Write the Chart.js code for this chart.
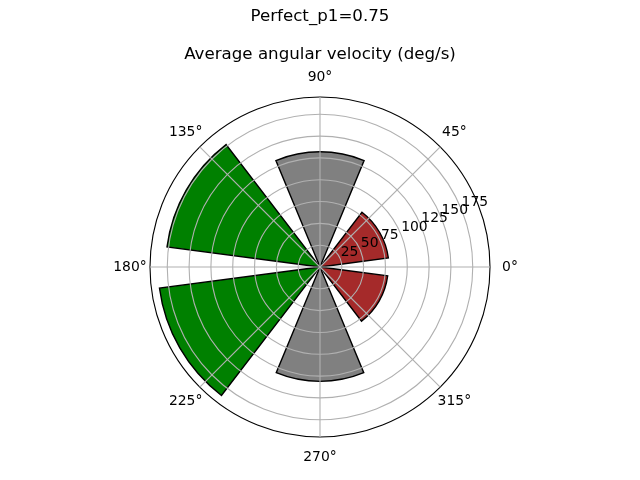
<!DOCTYPE html>
<html><head><meta charset="utf-8">
<script src="https://cdn.jsdelivr.net/npm/chart.js@4.4.0/dist/chart.umd.min.js"></script>
<style>html,body{margin:0;padding:0;background:#fff;} canvas{display:block;}</style>
</head><body>
<canvas id="c" width="640" height="480"></canvas>
<script>
const suptitleText = 'Perfect_p1=0.75';
const titleText = 'Average angular velocity (deg/s)';
// bar centre directions (deg, counter-clockwise from 0°), listed clockwise from 0°
const directions = [330, 270, 210, 150, 90, 30];
const velocities = [78.2, 131, 185.5, 176.8, 132, 79];
const barColors = ['#a52a2a', '#808080', '#008000', '#008000', '#808080', '#a52a2a'];
const barWidth = 45;
// angular tick labels, clockwise from 0°
const angleLabels = ['0°', '315°', '270°', '225°', '180°', '135°', '90°', '45°'];
const radialTicks = [25, 50, 75, 100, 125, 150, 175];
const rMax = 1.05 * Math.max(...velocities);

// build polar segments clockwise from 0° (bars with empty gaps between them)
const segValues = [], segAngles = [], segColors = [];
let pos = 0;
directions.forEach((d, i) => {
  const cw = (360 - d) % 360;
  const start = cw - barWidth / 2;
  segValues.push(0); segAngles.push(start - pos); segColors.push('rgba(0,0,0,0)');
  segValues.push(velocities[i]); segAngles.push(barWidth); segColors.push(barColors[i]);
  pos = start + barWidth;
});
segValues.push(0); segAngles.push(360 - pos); segColors.push('rgba(0,0,0,0)');

Chart.defaults.font.family = '"DejaVu Sans"';
Chart.defaults.color = '#000';

const labelPlugin = {
  id: 'polarLabels',
  afterDraw(chart) {
    const s = chart.scales.r;
    const ctx = chart.ctx;
    ctx.save();
    ctx.fillStyle = '#000';
    ctx.font = '13.9px "DejaVu Sans"';
    ctx.textAlign = 'center';
    ctx.textBaseline = 'middle';
    chart.data.labels.forEach((lab, i) => {
      const p = s.getPointPosition(i, s.drawingArea + 20);
      ctx.fillText(lab, p.x, p.y);
    });
    ctx.textAlign = 'left';
    ctx.textBaseline = 'alphabetic';
    const a = 22.5 * Math.PI / 180;
    radialTicks.forEach(v => {
      const d = s.getDistanceFromCenterForValue(v);
      ctx.fillText(String(v), s.xCenter + d * Math.cos(a) + 0.5, s.yCenter - d * Math.sin(a) - 3);
    });
    ctx.restore();
  }
};

new Chart(document.getElementById('c'), {
  type: 'polarArea',
  data: {
    labels: angleLabels,
    datasets: [{
      data: segValues,
      angle: (ctx) => segAngles[ctx.dataIndex],
      backgroundColor: segColors,
      borderColor: '#000',
      borderWidth: (ctx) => segValues[ctx.dataIndex] > 0 ? 1.4 : 0,
      borderJoinStyle: 'miter'
    }]
  },
  options: {
    responsive: false,
    animation: false,
    events: [],
    devicePixelRatio: 1,
    layout: { padding: { top: 0, bottom: 42, left: 0, right: 0 } },
    plugins: {
      legend: { display: false },
      tooltip: { enabled: false },
      title: {
        display: true, text: suptitleText, color: '#000',
        font: { family: '"DejaVu Sans"', size: 16.67, weight: 'normal' },
        padding: { top: 6.5, bottom: 0 }
      },
      subtitle: {
        display: true, text: titleText, color: '#000',
        font: { family: '"DejaVu Sans"', size: 16.67, weight: 'normal' },
        padding: { top: 18, bottom: 31.5 }
      }
    },
    scales: {
      r: {
        min: 0, max: rMax, startAngle: 90,
        afterBuildTicks: (s) => { s.ticks = [0, ...radialTicks, rMax].map(v => ({ value: v })); },
        ticks: { display: false },
        grid: {
          z: 1, circular: true,
          color: (ctx) => ctx.tick && ctx.tick.value === rMax ? '#000' : '#b0b0b0',
          lineWidth: (ctx) => ctx.tick && ctx.tick.value === rMax ? 1.1 : 1.1
        },
        angleLines: { display: true, color: '#b0b0b0', lineWidth: 1.1 },
        pointLabels: { display: false }
      }
    }
  },
  plugins: [labelPlugin]
});
</script>
</body></html>
